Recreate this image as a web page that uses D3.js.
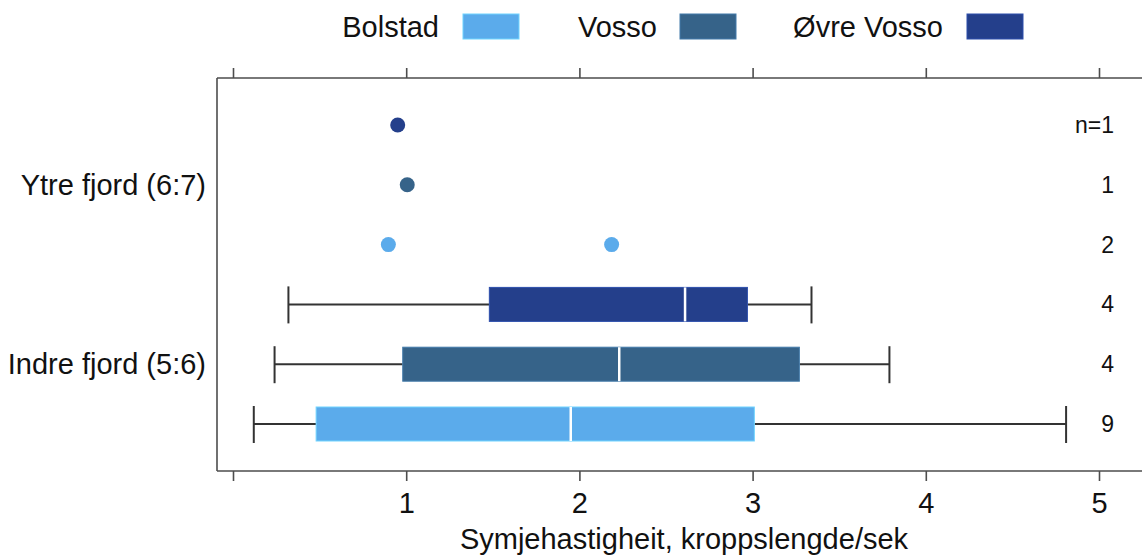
<!DOCTYPE html>
<html>
<head>
<meta charset="utf-8">
<script src="https://cdn.jsdelivr.net/npm/d3@7"></script>
<style>
  html, body { margin: 0; padding: 0; background: #fff; }
  svg { display: block; font-family: "Liberation Sans", Arial, sans-serif; }
</style>
</head>
<body>
<svg id="chart" width="1142" height="560"></svg>
<script>
// ---- data ----
const groups = ["Ytre fjord (6:7)", "Indre fjord (5:6)"];
const sites = ["Bolstad", "Vosso", "Øvre Vosso"];
const siteColors = ["#5BABEB", "#366389", "#243F8B"];
// Ytre fjord: individual observations per site
const ytreBolstad = [0.897, 2.186];
const ytreVosso = [1.006];
const ytreOvre = [0.951];
const ytreN = ["2", "1", "n=1"];      // Bolstad, Vosso, Øvre Vosso
// Indre fjord: box statistics per site (Bolstad, Vosso, Øvre Vosso)
const indreMin = [0.12, 0.24, 0.32];
const indreQ1 = [0.48, 0.98, 1.48];
const indreMedian = [1.95, 2.23, 2.61];
const indreQ3 = [3.01, 3.27, 2.97];
const indreMax = [4.81, 3.79, 3.34];
const indreN = ["9", "4", "4"];
const xTicks = [0, 1, 2, 3, 4, 5];
const xTickLabels = ["", "1", "2", "3", "4", "5"];
const xTitle = "Symjehastigheit, kroppslengde/sek";

// ---- layout ----
const svg = d3.select("#chart");
const W = 1142, H = 560;
const frameLeft = 217, frameTop = 78, frameBottom = 471;
const x = d3.scaleLinear().domain([0, 5]).range([233, 1099]);

// row order, top to bottom
const rowKeys = [];
groups.forEach(g => { [2, 1, 0].forEach(s => rowKeys.push(g + "|" + s)); });
const y = d3.scalePoint().domain(rowKeys).range([125, 424]);
const boxH = 34;
const textColor = "#111";
const bigFont = 29;
const nFont = 23;

// frame
svg.append("line").attr("x1", frameLeft).attr("x2", W).attr("y1", frameTop).attr("y2", frameTop)
  .attr("stroke", "#4d4d4d").attr("stroke-width", 1.6);
svg.append("line").attr("x1", frameLeft).attr("x2", W).attr("y1", frameBottom).attr("y2", frameBottom)
  .attr("stroke", "#4d4d4d").attr("stroke-width", 1.6);
svg.append("line").attr("x1", frameLeft).attr("x2", frameLeft).attr("y1", frameTop).attr("y2", frameBottom)
  .attr("stroke", "#4d4d4d").attr("stroke-width", 1.6);

// axes
const topAxis = d3.axisTop(x).tickValues(xTicks).tickSize(10).tickFormat("");
const gTop = svg.append("g").attr("transform", `translate(0,${frameTop})`).call(topAxis);
gTop.select(".domain").remove();
gTop.selectAll(".tick line").attr("stroke", "#4d4d4d").attr("stroke-width", 1.6);

const bottomAxis = d3.axisBottom(x).tickValues(xTicks).tickSize(10).tickPadding(11)
  .tickFormat((d, i) => xTickLabels[i]);
const gBot = svg.append("g").attr("transform", `translate(0,${frameBottom})`).call(bottomAxis);
gBot.select(".domain").remove();
gBot.selectAll(".tick line").attr("stroke", "#4d4d4d").attr("stroke-width", 1.6);
gBot.selectAll(".tick text").attr("font-size", bigFont).attr("fill", textColor)
  .attr("font-family", "Liberation Sans, Arial, sans-serif");

svg.append("text").attr("x", 684).attr("y", 549).attr("text-anchor", "middle")
  .attr("font-size", bigFont).attr("fill", textColor).text(xTitle);

// group labels
groups.forEach(g => {
  svg.append("text").attr("x", 206).attr("y", y(g + "|1")).attr("dy", "0.35em")
    .attr("text-anchor", "end").attr("font-size", bigFont).attr("fill", textColor).text(g);
});

// Ytre fjord points
const ytrePoints = [ytreBolstad, ytreVosso, ytreOvre];
ytrePoints.forEach((vals, s) => {
  svg.selectAll(null).data(vals).enter().append("circle")
    .attr("cx", d => x(d)).attr("cy", y(groups[0] + "|" + s)).attr("r", 7.5)
    .attr("fill", siteColors[s]);
  svg.append("text").attr("x", 1114).attr("y", y(groups[0] + "|" + s)).attr("dy", "0.35em")
    .attr("text-anchor", "end").attr("font-size", nFont).attr("fill", textColor).text(ytreN[s]);
});

// Indre fjord boxes
sites.forEach((site, s) => {
  const cy = y(groups[1] + "|" + s);
  const g = svg.append("g");
  g.append("line").attr("x1", x(indreMin[s])).attr("x2", x(indreQ1[s])).attr("y1", cy).attr("y2", cy)
    .attr("stroke", "#333").attr("stroke-width", 2);
  g.append("line").attr("x1", x(indreQ3[s])).attr("x2", x(indreMax[s])).attr("y1", cy).attr("y2", cy)
    .attr("stroke", "#333").attr("stroke-width", 2);
  [indreMin[s], indreMax[s]].forEach(v => {
    g.append("line").attr("x1", x(v)).attr("x2", x(v)).attr("y1", cy - boxH / 2 - 1).attr("y2", cy + boxH / 2 + 2)
      .attr("stroke", "#333").attr("stroke-width", 2);
  });
  g.append("rect").attr("x", x(indreQ1[s])).attr("y", cy - boxH / 2)
    .attr("width", x(indreQ3[s]) - x(indreQ1[s])).attr("height", boxH)
    .attr("fill", siteColors[s]).attr("stroke", d3.color(siteColors[s]).brighter(0.6)).attr("stroke-width", 1);
  g.append("line").attr("x1", x(indreMedian[s])).attr("x2", x(indreMedian[s]))
    .attr("y1", cy - boxH / 2).attr("y2", cy + boxH / 2).attr("stroke", "#fff").attr("stroke-width", 2.5);
  svg.append("text").attr("x", 1114).attr("y", cy).attr("dy", "0.35em")
    .attr("text-anchor", "end").attr("font-size", nFont).attr("fill", textColor).text(indreN[s]);
});

// legend
const legendPos = [{ tx: 439, sw: 463 }, { tx: 657, sw: 680 }, { tx: 943, sw: 967 }];
sites.forEach((site, s) => {
  svg.append("text").attr("x", legendPos[s].tx).attr("y", 27).attr("dy", "0.35em")
    .attr("text-anchor", "end").attr("font-size", bigFont).attr("fill", textColor).text(site);
  svg.append("rect").attr("x", legendPos[s].sw).attr("y", 14).attr("width", 56).attr("height", 25)
    .attr("fill", siteColors[s]).attr("stroke", d3.color(siteColors[s]).brighter(0.6)).attr("stroke-width", 1);
});
</script>
</body>
</html>
